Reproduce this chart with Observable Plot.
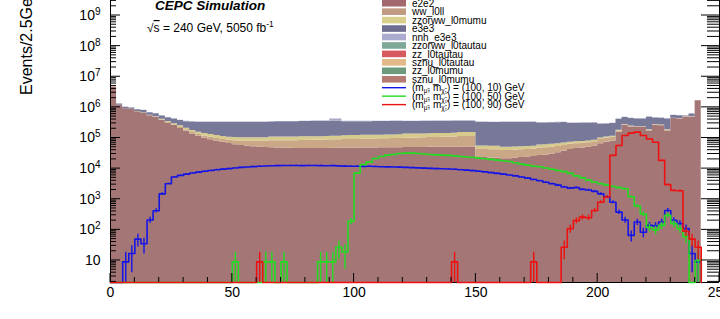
<!DOCTYPE html>
<html><head><meta charset="utf-8">
<script src="https://cdn.jsdelivr.net/npm/d3@7"></script>
<script src="https://cdn.jsdelivr.net/npm/@observablehq/plot@0.6"></script>
<style>body{margin:0;background:#fff;} svg{display:block}</style>
</head><body><div id="chart"></div>
<script>
// ---------- data (bins of 2.5 GeV starting at 0) ----------
const binWidth = 2.5;
const xTicks = [0, 50, 100, 150, 200, 250];
const yDecades = [1e1, 1e2, 1e3, 1e4, 1e5, 1e6, 1e7, 1e8, 1e9];

// stacked backgrounds, bottom to top
const sznu_l0mumu = [4.6e6,1.15e6,9.0e5,8.6e5,7.2e5,6.5e5,5.3e5,4.7e5,3.8e5,3.1e5,
 2.55e5,2.05e5,1.65e5,1.35e5,1.15e5,1.0e5,8.8e4,8.0e4,7.2e4,6.6e4,
 6.0e4,5.7e4,5.4e4,5.2e4,5.0e4,4.9e4,4.8e4,4.7e4,4.6e4,4.6e4,
 4.5e4,4.5e4,4.5e4,4.5e4,4.5e4,4.5e4,4.6e4,4.6e4,4.6e4,4.6e4,
 4.6e4,4.7e4,4.7e4,4.7e4,4.8e4,4.8e4,4.8e4,4.8e4,4.9e4,4.9e4,
 4.9e4,4.9e4,5.0e4,5.0e4,5.0e4,5.0e4,5.0e4,5.1e4,5.1e4,5.1e4,
 2.3e4,2.3e4,2.2e4,2.2e4,2.1e4,2.1e4,2.2e4,2.3e4,2.4e4,2.5e4,
 2.7e4,2.8e4,3.0e4,3.3e4,3.7e4,4.2e4,4.5e4,4.7e4,5.0e4,5.5e4,
 6.5e4,7.3e4,8.0e4,1.55e5,2.6e5,2.3e5,2.2e5,2.2e5,1.7e5,2.6e5,
 2.5e5,1.7e5,4.3e5,4.2e5,4.8e5,4.8e5,1.66e6];
const sznu_l0tautau = [0,1e4,5e3,5e3,6e3,6e3,8e3,8e3,1e4,1e4,
 1.2e4,1.5e4,2e4,1.5e4,1.5e4,1.5e4,1.7e4,1.7e4,1.8e4,1.9e4,
 2.1e4,2.2e4,2.4e4,2.6e4,2.8e4,3.0e4,3.3e4,3.5e4,3.6e4,3.6e4,
 3.7e4,3.8e4,3.9e4,4.0e4,4.0e4,4.1e4,4.2e4,4.2e4,4.3e4,4.4e4,
 4.4e4,4.5e4,4.5e4,4.6e4,4.6e4,4.7e4,4.8e4,4.9e4,5.0e4,5.0e4,
 5.1e4,5.2e4,5.3e4,5.4e4,5.5e4,5.6e4,5.8e4,6.0e4,6.0e4,6.0e4,
 1.9e4,1.9e4,1.9e4,1.9e4,1.8e4,1.8e4,1.8e4,1.8e4,1.8e4,1.8e4,
 2.0e4,2.0e4,2.0e4,2.0e4,2.0e4,2.0e4,2.0e4,2.0e4,2.0e4,2.0e4,
 2.5e4,2.5e4,2.5e4,1.5e4,1e4,1e4,1e4,1e4,1e4,1e4,
 1e4,1e4,1e4,1e4,5e3,5e3,0];
const zzorww_l0mumu = [0,1e4,5e3,5e3,8e3,1e4,1.2e4,1.5e4,2e4,2.5e4,
 2.5e4,3e4,2.5e4,2.5e4,2.5e4,2.5e4,2.5e4,2.3e4,2.2e4,2.1e4,
 2.2e4,2.3e4,2.3e4,2.3e4,2.3e4,2.3e4,2.6e4,2.6e4,2.6e4,2.6e4,
 2.6e4,2.6e4,2.6e4,2.5e4,2.5e4,2.5e4,2.7e4,2.7e4,3.0e4,3.0e4,
 3.0e4,3.0e4,3.0e4,3.0e4,3.0e4,3.0e4,3.0e4,3.0e4,3.5e4,3.5e4,
 3.5e4,3.5e4,3.5e4,3.5e4,3.5e4,3.5e4,3.5e4,4.0e4,4.0e4,4.0e4,
 1.3e4,1.3e4,1.3e4,1.3e4,1.1e4,1.1e4,1.1e4,1.1e4,1.1e4,1.1e4,
 1.2e4,1.2e4,1.2e4,1.2e4,1.2e4,1.0e4,1.0e4,1.0e4,1.0e4,1.0e4,
 1.0e4,1.0e4,1.0e4,1.0e4,5e3,5e3,5e3,5e3,5e3,5e3,
 5e3,5e3,5e3,5e3,5e3,5e3,0];
const e3e3 = [0,1.1e5,9e4,9e4,1.1e5,1.3e5,1.2e5,1.3e5,1.1e5,1.15e5,
 1.25e5,1.2e5,1.3e5,1.55e5,1.65e5,1.8e5,1.9e5,2.0e5,2.08e5,2.14e5,
 2.17e5,2.2e5,2.2e5,2.2e5,2.2e5,2.2e5,2.25e5,2.3e5,2.3e5,2.3e5,
 2.3e5,2.35e5,2.35e5,2.4e5,2.4e5,2.4e5,2.4e5,2.4e5,2.2e5,2.2e5,
 2.2e5,2.2e5,2.2e5,2.2e5,2.2e5,2.2e5,2.2e5,2.2e5,2.1e5,2.1e5,
 2.1e5,2.1e5,2.1e5,2.1e5,2.1e5,2.1e5,2.1e5,2.0e5,2.0e5,2.0e5,
 2.65e5,2.65e5,2.65e5,2.65e5,2.7e5,2.7e5,2.7e5,2.7e5,2.7e5,2.7e5,
 2.5e5,2.5e5,2.5e5,2.5e5,2.5e5,2.25e5,2.25e5,2.25e5,2.25e5,2.25e5,
 1.8e5,1.8e5,1.8e5,2.3e5,1.9e5,1.85e5,1.85e5,1.85e5,2.95e5,1.75e5,
 1.75e5,2.35e5,1.0e5,1.0e5,3e4,1.2e5,0];
const nnh_e3e3 = [0,2e4,1.5e4,1.5e4,1.5e4,1.5e4,1.2e4,1.2e4,1e4,1e4,
 1e4,1e4,1e4,1e4,1e4,1e4,1e4,1e4,1e4,1e4,
 1e4,1e4,1e4,1e4,1e4,1e4,1e4,1e4,1e4,1e4,
 1e4,1e4,1e4,1e4,1e4,1e4,6e4,6e4,1e4,1e4,
 1e4,1e4,1e4,1e4,1e4,1e4,1e4,1e4,1e4,1e4,
 1e4,1e4,1e4,1e4,1e4,1e4,1e4,1.5e4,1.5e4,1.5e4,
 1e4,1e4,1e4,1e4,1e4,1e4,1e4,1e4,1e4,1e4,
 1e4,1e4,1e4,1e4,1e4,1e4,1e4,1e4,1e4,1e4,
 1e4,1e4,1e4,1e4,1e4,1e4,1e4,1e4,1e4,1e4,
 1e4,1e4,1e4,1e4,5e3,1e4,0];

// signals
const sig_100_10 = [0,0,9,17,50,35,210,420,1500,3200,
 5300,6000,6600,7200,7700,8200,8700,9200,9600,10000,
 10500,11000,11300,11600,12000,12200,12400,12500,12600,12600,
 12700,12500,12600,12600,12500,12400,12500,12300,12100,12000,
 12000,11800,11900,11700,11500,11400,11300,11200,11000,10800,
 10600,10400,10200,10000,9900,9700,9500,9200,8900,8600,
 8200,7800,7400,7000,6600,6200,5800,5300,4900,4400,
 4000,3600,3200,2900,2500,2300,2400,2100,2000,1800,
 1500,1200,800,380,210,66,180,84,140,135,
 180,430,205,160,110,17,9];
const sig_100_50 = [0,0,0,0,0,0,0,0,0,0,
 0,0,0,0,0,0,0,0,0,0,
 9,0,0,0,0,9,9,0,9,0,
 0,0,0,0,9,9,9,27,19,190,
 7100,13500,16300,21400,25000,27500,29000,31000,32000,32000,
 31000,30000,29000,28000,27500,27000,26000,25000,24000,23000,
 22000,21000,20000,19000,18000,17000,15500,14000,13000,12000,
 11500,10500,9500,8700,8000,7000,5800,5000,4200,3600,
 3200,2900,2600,2400,2200,1200,600,330,120,100,
 140,300,160,110,60,0,10];
const sig_100_90 = [0,0,0,0,0,0,0,0,0,0,
 0,0,0,0,0,0,0,0,0,0,
 0,0,0,0,9,0,0,0,0,0,
 0,0,0,0,0,0,0,0,0,0,
 0,0,0,0,0,0,0,0,0,0,
 0,0,0,0,0,0,9,0,0,0,
 0,0,0,0,0,0,0,0,0,9,
 0,0,0,0,27,110,200,260,250,430,
 800,1180,27000,57000,120000,144000,155000,120000,93000,73000,
 18600,3000,1940,1900,90,50,27];
const eventWeight = 10; // MC weight per event, used for the stat. error bars

const legendNames = ["e2e2","ww_l0ll","zzorww_l0mumu","e3e3","nnh_e3e3","zzorww_l0tautau","zz_l0tautau","sznu_l0tautau","zz_l0mumu","sznu_l0mumu"];
const signalMasses = [[100, 10], [100, 50], [100, 90]];

// ---------- styles ----------
const layerColors = {sznu_l0mumu: "#a57676", sznu_l0tautau: "#c9a787", zzorww_l0mumu: "#d6ca8c", e3e3: "#787899", nnh_e3e3: "#a8a8c8"};
const legendColors = {e2e2:"#a2686e", ww_l0ll:"#c19a82", zzorww_l0mumu:"#d8cf8c", e3e3:"#6e6e92", nnh_e3e3:"#ababd0",
  zzorww_l0tautau:"#80a898", zz_l0tautau:"#d65a5e", sznu_l0tautau:"#e2b988", zz_l0mumu:"#6d9a7c", sznu_l0mumu:"#b57a72"};
const signalColors = ["#1414e6", "#22dd22", "#ee1111"];

// ---------- build ----------
const yMin = 1.91, yMax = 3.09e9;
const layers = [
  ["sznu_l0mumu", sznu_l0mumu], ["sznu_l0tautau", sznu_l0tautau], ["zzorww_l0mumu", zzorww_l0mumu],
  ["e3e3", e3e3], ["nnh_e3e3", nnh_e3e3]
];
const nBins = sznu_l0mumu.length;
const edges = d3.range(nBins + 1).map(i => i * binWidth);

const stackRows = [];
let cum = new Array(nBins).fill(0);
for (const [name, vals] of layers) {
  for (let i = 0; i <= nBins; i++) {
    const j = Math.min(i, nBins - 1);
    stackRows.push({layer: name, x: edges[i], y1: Math.max(cum[j], yMin), y2: Math.max(cum[j] + vals[j], yMin)});
  }
  cum = cum.map((c, j) => c + vals[j]);
}

function stepRows(vals) {
  const rows = [];
  for (let i = 0; i <= vals.length; i++) {
    const j = Math.min(i, vals.length - 1);
    rows.push({x: edges[i], y: Math.max(vals[j], yMin)});
  }
  rows.push({x: edges[vals.length], y: yMin});
  return rows;
}
function errRows(vals) {
  return vals.map((v, i) => ({v, i})).filter(d => d.v > 0).map(({v, i}) => {
    const e = Math.sqrt(v * eventWeight);
    return {x: edges[i] + binWidth / 2, y1: Math.max(v - e, yMin), y2: v + e};
  });
}
const signals = [sig_100_10, sig_100_50, sig_100_90];

const marks = [
  Plot.areaY(stackRows, {x: "x", y1: "y1", y2: "y2", z: "layer", fill: d => layerColors[d.layer], curve: "step-after"}),
  Plot.ruleX([0, 250], {stroke: "#000", strokeWidth: 1}),
  Plot.ruleY([yMin], {stroke: "#000", strokeWidth: 1}),
  Plot.axisX({ticks: xTicks, tickSize: 0, tickPadding: 5, fontSize: 14, label: null}),
  Plot.axisY({ticks: yDecades, tickSize: 0, tickPadding: 10, fontSize: 14, label: null,
    tickFormat: d => d === 10 ? "10" : "10^" + Math.round(Math.log10(d))})
];
signals.forEach((s, k) => {
  marks.push(Plot.line(stepRows(s), {x: "x", y: "y", stroke: signalColors[k], strokeWidth: 1.6, curve: "step-after"}));
  marks.push(Plot.ruleX(errRows(s), {x: "x", y1: "y1", y2: "y2", stroke: signalColors[k], strokeWidth: 1.4}));
});

const plot = Plot.plot({
  width: 720, height: 319,
  marginLeft: 110, marginRight: 1, marginTop: 0, marginBottom: 37,
  x: {domain: [0, 250]},
  y: {type: "log", domain: [yMin, yMax]},
  style: {fontFamily: "'Liberation Sans', Arial, sans-serif", fontSize: "14px", background: "#fff", color: "#000"},
  marks
});
document.getElementById("chart").appendChild(plot);

// ---------- decorations ----------
const svg = d3.select(plot);
const X = plot.scale("x"), Y = plot.scale("y");
const x0 = X.apply(0), x1 = X.apply(250), yb = Y.apply(yMin);

// superscripts on y tick labels
svg.selectAll('g[aria-label="y-axis tick label"] text').each(function() {
  const t = d3.select(this); const s = t.text();
  if (s.includes("^")) {
    const [b, e] = s.split("^");
    t.text(b);
    t.append("tspan").attr("dy", "-0.5em").attr("font-size", "10px").text(e);
  }
});

// inward ticks (ROOT style)
const tg = svg.append("g").attr("stroke", "#000").attr("stroke-width", 1);
const yMinor = [];
for (let d = 0; d <= 9; d++) for (let m = 2; m <= 9; m++) { const v = m * 10 ** d; if (v >= yMin && v <= yMax) yMinor.push(v); }
yDecades.forEach(v => {
  const y = Y.apply(v);
  tg.append("line").attr("x1", x0).attr("x2", x0 + 10).attr("y1", y).attr("y2", y);
  tg.append("line").attr("x1", x1).attr("x2", x1 - 18).attr("y1", y).attr("y2", y);
});
yMinor.forEach(v => {
  const y = Y.apply(v);
  tg.append("line").attr("x1", x0).attr("x2", x0 + 6).attr("y1", y).attr("y2", y);
  tg.append("line").attr("x1", x1).attr("x2", x1 - 12).attr("y1", y).attr("y2", y);
});
d3.range(0, 251, 10).forEach(v => {
  const x = X.apply(v); const len = v % 50 === 0 ? 9 : 5;
  tg.append("line").attr("x1", x).attr("x2", x).attr("y1", yb).attr("y2", yb - len);
});

// texts (Plot's svg defaults to text-anchor middle; override)
const tx = svg.append("g").attr("text-anchor", "start").attr("fill", "#000");
tx.append("text").attr("transform", "translate(32,95) rotate(-90)")
  .attr("font-size", 16).text("Events/2.5GeV");
tx.append("text").attr("x", 155).attr("y", 10).attr("font-size", 13.5)
  .attr("font-weight", "bold").attr("font-style", "italic").text("CEPC Simulation");
const lum = tx.append("text").attr("x", 147).attr("y", 32).attr("font-size", 12);
lum.append("tspan").text("\u221A");
lum.append("tspan").attr("text-decoration", "overline").text("s");
lum.append("tspan").text(" = 240 GeV, 5050 fb");
lum.append("tspan").attr("dy", -5).attr("font-size", 8.5).text("-1");

// legend
const lg = tx.append("g").attr("font-size", 10);
const rowY = i => 3.2 + 8.45 * i;
legendNames.forEach((n, i) => {
  lg.append("rect").attr("x", 382).attr("y", rowY(i) - 3.3).attr("width", 24).attr("height", 6.6).attr("fill", legendColors[n]);
  lg.append("text").attr("x", 412).attr("y", rowY(i)).attr("dy", "0.36em").text(n);
});
signalMasses.forEach(([a, b], k) => {
  const i = legendNames.length + k;
  lg.append("line").attr("x1", 382).attr("x2", 406).attr("y1", rowY(i)).attr("y2", rowY(i)).attr("stroke", signalColors[k]).attr("stroke-width", 1.4);
  const t = lg.append("text").attr("x", 412).attr("y", rowY(i)).attr("dy", "0.36em");
  t.append("tspan").text("(m");
  t.append("tspan").attr("dy", 2).attr("font-size", 6.5).text("\u03BC\u0303");
  t.append("tspan").attr("dy", -2).text(", m");
  t.append("tspan").attr("dy", 2).attr("font-size", 6.5).text("\u03C7\u0303\u2081");
  t.append("tspan").attr("dy", -2).text(`) = (${a}, ${b}) GeV`);
});
</script></body></html>
